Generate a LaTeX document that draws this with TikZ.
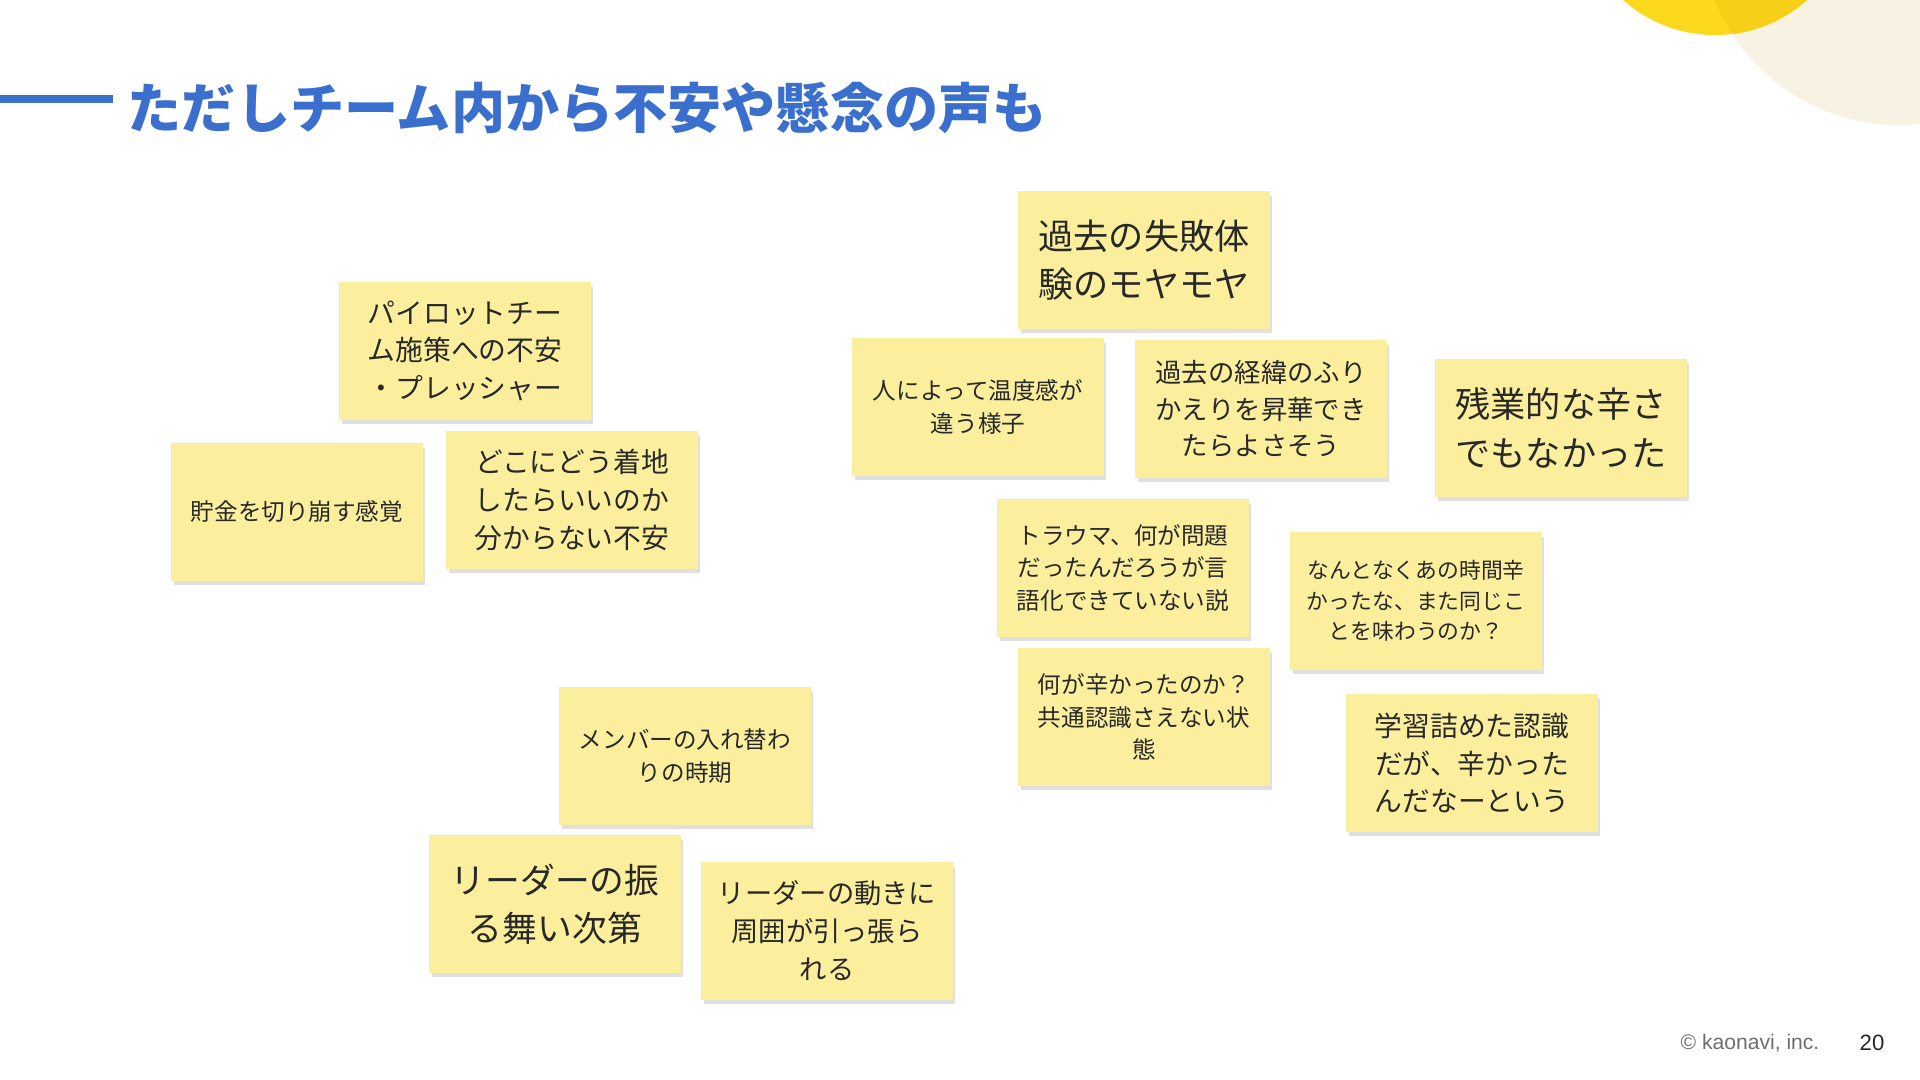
\documentclass[tikz,border=0pt]{standalone}
\usepackage{fontspec}
\setsansfont{Liberation Sans}
\newfontfamily\jp{Noto Sans CJK JP}
\usetikzlibrary{shadows}
\definecolor{titleblue}{RGB}{59,111,206}
\definecolor{notey}{RGB}{251,239,158}
\definecolor{sunny}{RGB}{253,217,30}
\definecolor{sunnydark}{RGB}{248,207,24}
\definecolor{cream}{RGB}{247,242,226}
\definecolor{inkgray}{RGB}{40,40,40}

\begin{document}
\begin{tikzpicture}[x=0.01cm,y=-0.01cm,
	note/.style={fill=notey,inner sep=0pt,minimum width=2.51cm,minimum height=1.37cm,align=center,text=inkgray,
		drop shadow={shadow xshift=0.6pt,shadow yshift=-1.2pt,fill=black,opacity=0.12}},
	small/.style={font=\jp\fontsize{6.7}{9.3}\selectfont},
	mid/.style={font=\jp\fontsize{7.9}{10.8}\selectfont},
	big/.style={font=\jp\fontsize{10.0}{13.8}\selectfont}]
		\clip(0,0) rectangle (1920,1080);
		\fill[white] (0,0) rectangle (1920,1080);
		% corner circles
		\fill[cream] (1900,-75) circle (2.0cm);
		\fill[sunny] (1715,-103) circle (1.38cm);
		\begin{scope}
			\clip (1900,-75) circle (2.0cm);
			\fill[sunnydark] (1715,-103) circle (1.38cm);
		\end{scope}
		% title
		\draw[titleblue,line width=2.3pt] (0,99) -- (113,99);
		\node[anchor=west,inner sep=0pt,text=titleblue,font=\jp\bfseries\fontsize{15.4}{18}\selectfont] (title) at (127,108) {ただしチーム内から不安や懸念の声も};
		% left group
		\node[note,mid] (pilot) at (465,351) {パイロットチー\\ム施策への不安\\・プレッシャー};
		\node[note,small] (savings) at (297,512) {貯金を切り崩す感覚};
		\node[note,mid] (landing) at (572,500) {どこにどう着地\\したらいいのか\\分からない不安};
		% right group
		\node[note,big] (past) at (1144,260) {過去の失敗体\\験のモヤモヤ};
		\node[note,small] (temper) at (978,407) {人によって温度感が\\違う様子};
		\node[note,font=\jp\fontsize{7.5}{10.3}\selectfont] (review) at (1261,409) {過去の経緯のふり\\かえりを昇華でき\\たらよさそう};
		\node[note,big] (overtime) at (1561,428) {残業的な辛さ\\でもなかった};
		\node[note,small] (trauma) at (1123,568) {トラウマ、何が問題\\だったんだろうが言\\語化できていない説};
		\node[note,font=\jp\fontsize{6.2}{8.7}\selectfont] (again) at (1416,601) {なんとなくあの時間辛\\かったな、また同じこ\\とを味わうのか？};
		\node[note,small] (what) at (1144,717) {何が辛かったのか？\\共通認識さえない状\\態};
		\node[note,mid] (study) at (1472,763) {学習詰めた認識\\だが、辛かった\\んだなーという};
		% bottom group
		\node[note,small] (members) at (685,756) {メンバーの入れ替わ\\りの時期};
		\node[note,font=\jp\fontsize{9.9}{13.6}\selectfont] (leader) at (555,904) {リーダーの振\\る舞い次第};
		\node[note,font=\jp\fontsize{7.75}{10.8}\selectfont] (pulled) at (827,931) {リーダーの動きに\\周囲が引っ張ら\\れる};
		% footer
		\node[text={rgb,255:red,110;green,110;blue,110},font=\sffamily\fontsize{6}{7}\selectfont] (copy) at (1750,1043) {© kaonavi, inc.};
		\node[text=inkgray,font=\sffamily\fontsize{6.3}{7}\selectfont] (page) at (1872,1043) {20};
	\end{tikzpicture}
\end{document}
